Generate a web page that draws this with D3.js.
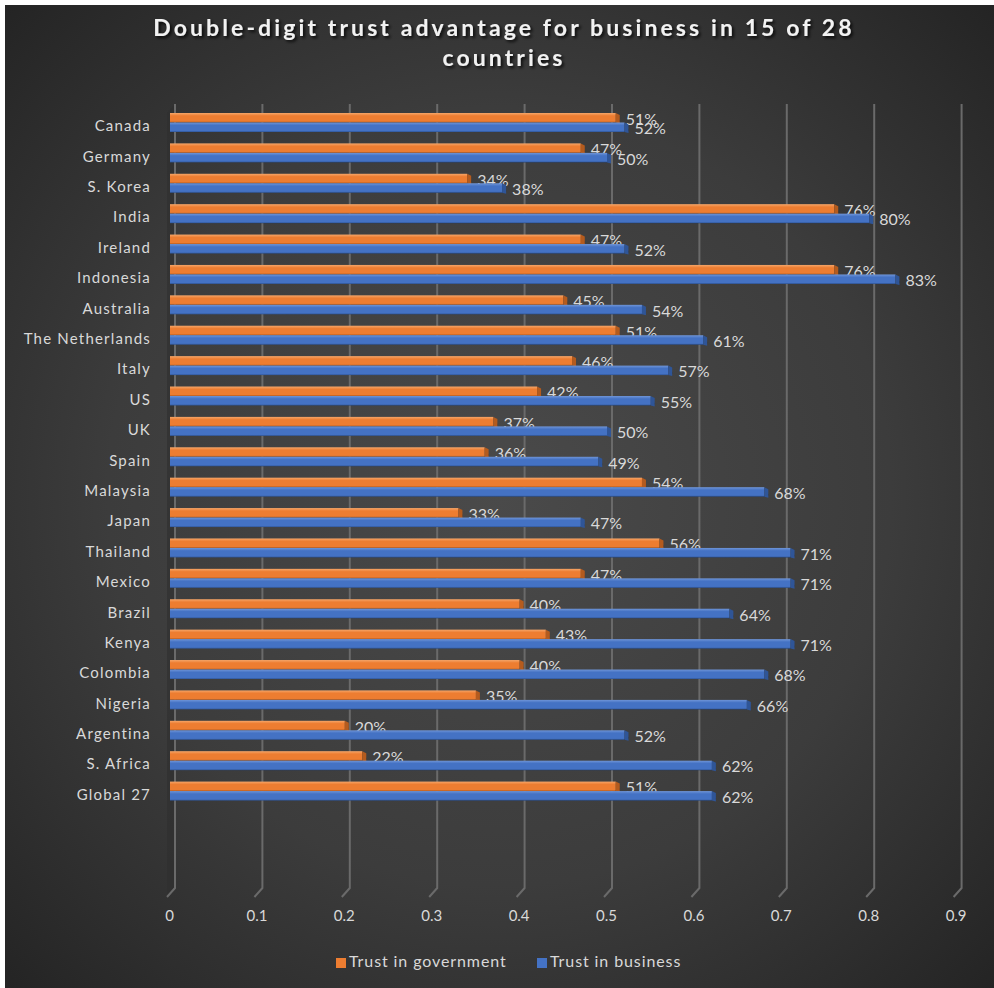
<!DOCTYPE html>
<html>
<head>
<meta charset="utf-8">
<script src="https://cdn.jsdelivr.net/npm/d3@7"></script>
<style>
  body { margin: 0; background: #fff; }
  text { font-family: Lato, 'Open Sans', sans-serif; }
</style>
</head>
<body>
<div id="chart"></div>
<script>
const countries = ['Canada', 'Germany', 'S. Korea', 'India', 'Ireland', 'Indonesia', 'Australia',
  'The Netherlands', 'Italy', 'US', 'UK', 'Spain', 'Malaysia', 'Japan', 'Thailand', 'Mexico',
  'Brazil', 'Kenya', 'Colombia', 'Nigeria', 'Argentina', 'S. Africa', 'Global 27']
const trustGovernment = [0.51, 0.47, 0.34, 0.76, 0.47, 0.76, 0.45, 0.51, 0.46, 0.42, 0.37, 0.36,
  0.54, 0.33, 0.56, 0.47, 0.40, 0.43, 0.40, 0.35, 0.20, 0.22, 0.51]
const trustBusiness = [0.52, 0.50, 0.38, 0.80, 0.52, 0.83, 0.54, 0.61, 0.57, 0.55, 0.50, 0.49,
  0.68, 0.47, 0.71, 0.71, 0.64, 0.71, 0.68, 0.66, 0.52, 0.62, 0.62]
const seriesNames = ['Trust in government', 'Trust in business']
const xTicks = [0, 0.1, 0.2, 0.3, 0.4, 0.5, 0.6, 0.7, 0.8, 0.9]

const width = 994, height = 988
const colors = {
  'Trust in government': {main: '#ed7d31', top: '#f6a669', side: '#b45b1e'},
  'Trust in business': {main: '#4472c4', top: '#6f95d8', side: '#2f5597'}
}

const rows = countries.map((c, i) => ({
  country: c,
  values: [
    {key: seriesNames[0], value: trustGovernment[i]},
    {key: seriesNames[1], value: trustBusiness[i]}
  ]
}))

const svg = d3.select('#chart').append('svg')
  .attr('width', width)
  .attr('height', height)

const defs = svg.append('defs')
const bg = defs.append('radialGradient').attr('id', 'bg')
  .attr('cx', '50%').attr('cy', '50%').attr('r', '72%')
bg.append('stop').attr('offset', '0%').attr('stop-color', '#4a4a4a')
bg.append('stop').attr('offset', '55%').attr('stop-color', '#3c3c3c')
bg.append('stop').attr('offset', '100%').attr('stop-color', '#232323')

const shadow = defs.append('filter').attr('id', 'tshadow')
  .attr('x', '-10%').attr('y', '-30%').attr('width', '120%').attr('height', '160%')
shadow.append('feDropShadow').attr('dx', 2).attr('dy', 2).attr('stdDeviation', 1.5)
  .attr('flood-color', '#000').attr('flood-opacity', 0.8)

seriesNames.forEach((s, i) => {
  const g = defs.append('linearGradient').attr('id', 'bar' + i)
    .attr('x1', 0).attr('y1', 0).attr('x2', 0).attr('y2', 1)
  g.append('stop').attr('offset', '0%').attr('stop-color', colors[s].top)
  g.append('stop').attr('offset', '30%').attr('stop-color', colors[s].main)
  g.append('stop').attr('offset', '85%').attr('stop-color', colors[s].main)
  g.append('stop').attr('offset', '100%').attr('stop-color', colors[s].side)
})

svg.append('rect')
  .attr('x', 5).attr('y', 5)
  .attr('width', width - 5).attr('height', height - 5)
  .attr('fill', 'url(#bg)')

// title
const titleLines = ['Double-digit trust advantage for business in 15 of 28', 'countries']
svg.selectAll('.title').data(titleLines).enter().append('text')
  .attr('class', 'title')
  .attr('x', 504).attr('y', (d, i) => 36 + i * 30)
  .attr('text-anchor', 'middle')
  .attr('fill', '#f2f2f2')
  .attr('font-size', 23)
  .attr('font-weight', 'bold')
  .attr('letter-spacing', 3.1)
  .attr('filter', 'url(#tshadow)')
  .text(d => d)

const xScale = d3.scaleLinear()
  .domain([0, 0.9])
  .range([170, 170 + 0.9 * 874])
const yScale = d3.scaleBand()
  .domain(countries)
  .range([107.3, 107.3 + 23 * 30.39])
  .paddingInner(0.375)
  .paddingOuter(0.1875)
const ySub = d3.scaleBand()
  .domain(seriesNames)
  .range([0, yScale.bandwidth()])

const depthX = 5, depthY = 9
const wallTop = 104, wallBottom = 888

// side wall
svg.append('path')
  .attr('d', `M${xScale(0) - 3},${wallTop + depthY} L${xScale(0) + depthX},${wallTop} L${xScale(0) + depthX},${wallBottom} L${xScale(0) - 3},${wallBottom + depthY}Z`)
  .attr('fill', '#2e2e2e')
  .attr('opacity', 0.6)

// gridlines on back wall with floor edge
const grid = svg.append('g').attr('class', 'grid')
grid.selectAll('path').data(xTicks).enter().append('path')
  .attr('d', d => `M${xScale(d) + depthX},${wallTop} L${xScale(d) + depthX},${wallBottom} L${xScale(d) - 3},${wallBottom + depthY}`)
  .attr('fill', 'none')
  .attr('stroke', '#6a6a6a')
  .attr('stroke-width', 2)

// x axis labels
const xAxis = d3.axisBottom(xScale)
  .tickValues(xTicks)
  .tickFormat(d3.format('~g'))
  .tickSize(0)
  .tickPadding(0)
const axisG = svg.append('g')
  .attr('transform', 'translate(-1, 910)')
  .call(xAxis)
axisG.select('.domain').remove()
axisG.selectAll('text')
  .attr('fill', '#d9d9d9')
  .attr('font-size', 15)
  .attr('font-family', 'Lato, sans-serif')

// category labels
const yAxis = d3.axisLeft(yScale).tickSize(0).tickPadding(0)
const yG = svg.append('g')
  .attr('transform', 'translate(151, 4)')
  .call(yAxis)
yG.select('.domain').remove()
yG.selectAll('text')
  .attr('fill', '#d9d9d9')
  .attr('font-size', 15)
  .attr('letter-spacing', 1.2)
  .attr('font-family', 'Lato, sans-serif')

// bars
const groups = svg.append('g').selectAll('.row').data(rows)
  .enter().append('g')
  .attr('class', 'row')
  .attr('transform', d => `translate(0, ${yScale(d.country)})`)

const bars = groups.selectAll('.bar').data(d => d.values)
  .enter().append('g')
  .attr('class', 'bar')

const bh = ySub.bandwidth()
const dx = 4, dy = 3

bars.append('path')
  .attr('d', d => {
    const x1 = xScale(d.value), y0 = ySub(d.key)
    return `M${xScale(0)},${y0 + bh} L${x1},${y0 + bh} L${x1 + dx},${y0 + bh - dy} L${x1 + dx},${y0 + bh - dy + 2}Z`
  })
  .attr('fill', 'rgba(0,0,0,0.35)')

bars.append('rect')
  .attr('x', xScale(0))
  .attr('y', d => ySub(d.key))
  .attr('width', d => xScale(d.value) - xScale(0))
  .attr('height', bh)
  .attr('fill', d => `url(#bar${seriesNames.indexOf(d.key)})`)

bars.append('path')
  .attr('d', d => {
    const x1 = xScale(d.value), y0 = ySub(d.key)
    return `M${x1},${y0} L${x1 + dx},${y0 + dy - 1} L${x1 + dx},${y0 + bh + 1} L${x1},${y0 + bh}Z`
  })
  .attr('fill', d => colors[d.key].side)

// data labels
bars.append('text')
  .attr('x', d => xScale(d.value) + 10)
  .attr('y', d => ySub(d.key) + bh / 2 + 3)
  .attr('dominant-baseline', 'middle')
  .attr('fill', '#d9d9d9')
  .attr('font-size', 16)
  .text(d => d3.format('.0%')(d.value))

// legend
const legend = svg.append('g').attr('transform', 'translate(336, 958)')
const li = legend.selectAll('.item').data(seriesNames)
  .enter().append('g')
  .attr('class', 'item')
  .attr('transform', (d, i) => `translate(${i * 201}, 0)`)
li.append('rect')
  .attr('width', 10).attr('height', 10)
  .attr('fill', d => colors[d].main)
li.append('text')
  .attr('x', 13).attr('y', 5)
  .attr('dominant-baseline', 'middle')
  .attr('fill', '#d9d9d9')
  .attr('font-size', 16)
  .attr('letter-spacing', 0.9)
  .text(d => d)
</script>
</body>
</html>
